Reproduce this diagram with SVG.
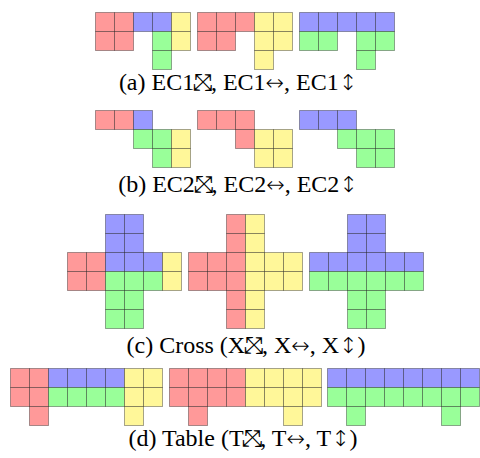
<svg xmlns="http://www.w3.org/2000/svg" width="480" height="458" viewBox="0 0 480 458">
<style>
rect{stroke:#000;stroke-opacity:0.35;stroke-width:1;width:19px;height:19px}
.r{fill:#ff9999}.b{fill:#9999ff}.g{fill:#99ff99}.y{fill:#fff799}
text{font-family:"Liberation Serif","Times New Roman",serif;font-size:24px;fill:#000;text-anchor:middle}
.s{font-family:"DejaVu Sans",sans-serif;font-size:23px;font-weight:200}
.a{font-family:"DejaVu Sans",sans-serif;font-size:22px;font-weight:200}
</style>
<rect x="0" y="0" width="480" height="458" style="fill:#fff;stroke:none;width:480px;height:458px"/>
<g id="ec1-diag">
<rect class="r" x="95.5" y="12.5"/><rect class="r" x="114.5" y="12.5"/><rect class="b" x="133.5" y="12.5"/><rect class="b" x="152.5" y="12.5"/><rect class="y" x="171.5" y="12.5"/>
<rect class="r" x="95.5" y="31.5"/><rect class="r" x="114.5" y="31.5"/><rect class="g" x="152.5" y="31.5"/><rect class="y" x="171.5" y="31.5"/>
<rect class="g" x="152.5" y="50.5"/>
</g>
<g id="ec1-h">
<rect class="r" x="197.5" y="12.5"/><rect class="r" x="216.5" y="12.5"/><rect class="r" x="235.5" y="12.5"/><rect class="y" x="254.5" y="12.5"/><rect class="y" x="273.5" y="12.5"/>
<rect class="r" x="197.5" y="31.5"/><rect class="r" x="216.5" y="31.5"/><rect class="y" x="254.5" y="31.5"/><rect class="y" x="273.5" y="31.5"/>
<rect class="y" x="254.5" y="50.5"/>
</g>
<g id="ec1-v">
<rect class="b" x="299.5" y="12.5"/><rect class="b" x="318.5" y="12.5"/><rect class="b" x="337.5" y="12.5"/><rect class="b" x="356.5" y="12.5"/><rect class="b" x="375.5" y="12.5"/>
<rect class="g" x="299.5" y="31.5"/><rect class="g" x="318.5" y="31.5"/><rect class="g" x="356.5" y="31.5"/><rect class="g" x="375.5" y="31.5"/>
<rect class="g" x="356.5" y="50.5"/>
</g>
<text id="cap-a" x="238" y="90">(a) EC1<tspan class="s">⤡</tspan><tspan class="s" dx="-19.3">⤢</tspan>, EC1<tspan class="a">↔</tspan>, EC1<tspan class="a">↕</tspan></text>

<g id="ec2-diag">
<rect class="r" x="95.5" y="110.5"/><rect class="r" x="114.5" y="110.5"/><rect class="b" x="133.5" y="110.5"/>
<rect class="g" x="133.5" y="129.5"/><rect class="g" x="152.5" y="129.5"/><rect class="y" x="171.5" y="129.5"/>
<rect class="g" x="152.5" y="148.5"/><rect class="y" x="171.5" y="148.5"/>
</g>
<g id="ec2-h">
<rect class="r" x="197.5" y="110.5"/><rect class="r" x="216.5" y="110.5"/><rect class="r" x="235.5" y="110.5"/>
<rect class="r" x="235.5" y="129.5"/><rect class="y" x="254.5" y="129.5"/><rect class="y" x="273.5" y="129.5"/>
<rect class="y" x="254.5" y="148.5"/><rect class="y" x="273.5" y="148.5"/>
</g>
<g id="ec2-v">
<rect class="b" x="299.5" y="110.5"/><rect class="b" x="318.5" y="110.5"/><rect class="b" x="337.5" y="110.5"/>
<rect class="g" x="337.5" y="129.5"/><rect class="g" x="356.5" y="129.5"/><rect class="g" x="375.5" y="129.5"/>
<rect class="g" x="356.5" y="148.5"/><rect class="g" x="375.5" y="148.5"/>
</g>
<text id="cap-b" x="238" y="192">(b) EC2<tspan class="s">⤡</tspan><tspan class="s" dx="-19.3">⤢</tspan>, EC2<tspan class="a">↔</tspan>, EC2<tspan class="a">↕</tspan></text>

<g id="cross-diag">
<rect class="b" x="105.5" y="214.5"/><rect class="b" x="124.5" y="214.5"/>
<rect class="b" x="105.5" y="233.5"/><rect class="b" x="124.5" y="233.5"/>
<rect class="r" x="67.5" y="252.5"/><rect class="r" x="86.5" y="252.5"/><rect class="b" x="105.5" y="252.5"/><rect class="b" x="124.5" y="252.5"/><rect class="b" x="143.5" y="252.5"/><rect class="y" x="162.5" y="252.5"/>
<rect class="r" x="67.5" y="271.5"/><rect class="r" x="86.5" y="271.5"/><rect class="g" x="105.5" y="271.5"/><rect class="g" x="124.5" y="271.5"/><rect class="g" x="143.5" y="271.5"/><rect class="y" x="162.5" y="271.5"/>
<rect class="g" x="105.5" y="290.5"/><rect class="g" x="124.5" y="290.5"/>
<rect class="g" x="105.5" y="309.5"/><rect class="g" x="124.5" y="309.5"/>
</g>
<g id="cross-h">
<rect class="r" x="226.5" y="214.5"/><rect class="y" x="245.5" y="214.5"/>
<rect class="r" x="226.5" y="233.5"/><rect class="y" x="245.5" y="233.5"/>
<rect class="r" x="188.5" y="252.5"/><rect class="r" x="207.5" y="252.5"/><rect class="r" x="226.5" y="252.5"/><rect class="y" x="245.5" y="252.5"/><rect class="y" x="264.5" y="252.5"/><rect class="y" x="283.5" y="252.5"/>
<rect class="r" x="188.5" y="271.5"/><rect class="r" x="207.5" y="271.5"/><rect class="r" x="226.5" y="271.5"/><rect class="y" x="245.5" y="271.5"/><rect class="y" x="264.5" y="271.5"/><rect class="y" x="283.5" y="271.5"/>
<rect class="r" x="226.5" y="290.5"/><rect class="y" x="245.5" y="290.5"/>
<rect class="r" x="226.5" y="309.5"/><rect class="y" x="245.5" y="309.5"/>
</g>
<g id="cross-v">
<rect class="b" x="347.5" y="214.5"/><rect class="b" x="366.5" y="214.5"/>
<rect class="b" x="347.5" y="233.5"/><rect class="b" x="366.5" y="233.5"/>
<rect class="b" x="309.5" y="252.5"/><rect class="b" x="328.5" y="252.5"/><rect class="b" x="347.5" y="252.5"/><rect class="b" x="366.5" y="252.5"/><rect class="b" x="385.5" y="252.5"/><rect class="b" x="404.5" y="252.5"/>
<rect class="g" x="309.5" y="271.5"/><rect class="g" x="328.5" y="271.5"/><rect class="g" x="347.5" y="271.5"/><rect class="g" x="366.5" y="271.5"/><rect class="g" x="385.5" y="271.5"/><rect class="g" x="404.5" y="271.5"/>
<rect class="g" x="347.5" y="290.5"/><rect class="g" x="366.5" y="290.5"/>
<rect class="g" x="347.5" y="309.5"/><rect class="g" x="366.5" y="309.5"/>
</g>
<text id="cap-c" x="246" y="353">(c) Cross (X<tspan class="s">⤡</tspan><tspan class="s" dx="-19.3">⤢</tspan>, X<tspan class="a">↔</tspan>, X<tspan class="a">↕</tspan>)</text>

<g id="table-diag">
<rect class="r" x="10.5" y="368.5"/><rect class="r" x="29.5" y="368.5"/><rect class="b" x="48.5" y="368.5"/><rect class="b" x="67.5" y="368.5"/><rect class="b" x="86.5" y="368.5"/><rect class="b" x="105.5" y="368.5"/><rect class="y" x="124.5" y="368.5"/><rect class="y" x="143.5" y="368.5"/>
<rect class="r" x="10.5" y="387.5"/><rect class="r" x="29.5" y="387.5"/><rect class="g" x="48.5" y="387.5"/><rect class="g" x="67.5" y="387.5"/><rect class="g" x="86.5" y="387.5"/><rect class="g" x="105.5" y="387.5"/><rect class="y" x="124.5" y="387.5"/><rect class="y" x="143.5" y="387.5"/>
<rect class="r" x="29.5" y="406.5"/><rect class="y" x="124.5" y="406.5"/>
</g>
<g id="table-h">
<rect class="r" x="169.5" y="368.5"/><rect class="r" x="188.5" y="368.5"/><rect class="r" x="207.5" y="368.5"/><rect class="r" x="226.5" y="368.5"/><rect class="y" x="245.5" y="368.5"/><rect class="y" x="264.5" y="368.5"/><rect class="y" x="283.5" y="368.5"/><rect class="y" x="302.5" y="368.5"/>
<rect class="r" x="169.5" y="387.5"/><rect class="r" x="188.5" y="387.5"/><rect class="r" x="207.5" y="387.5"/><rect class="r" x="226.5" y="387.5"/><rect class="y" x="245.5" y="387.5"/><rect class="y" x="264.5" y="387.5"/><rect class="y" x="283.5" y="387.5"/><rect class="y" x="302.5" y="387.5"/>
<rect class="r" x="188.5" y="406.5"/><rect class="y" x="283.5" y="406.5"/>
</g>
<g id="table-v">
<rect class="b" x="327.5" y="368.5"/><rect class="b" x="346.5" y="368.5"/><rect class="b" x="365.5" y="368.5"/><rect class="b" x="384.5" y="368.5"/><rect class="b" x="403.5" y="368.5"/><rect class="b" x="422.5" y="368.5"/><rect class="b" x="441.5" y="368.5"/><rect class="b" x="460.5" y="368.5"/>
<rect class="g" x="327.5" y="387.5"/><rect class="g" x="346.5" y="387.5"/><rect class="g" x="365.5" y="387.5"/><rect class="g" x="384.5" y="387.5"/><rect class="g" x="403.5" y="387.5"/><rect class="g" x="422.5" y="387.5"/><rect class="g" x="441.5" y="387.5"/><rect class="g" x="460.5" y="387.5"/>
<rect class="g" x="346.5" y="406.5"/><rect class="g" x="441.5" y="406.5"/>
</g>
<text id="cap-d" x="243" y="446">(d) Table (T<tspan class="s">⤡</tspan><tspan class="s" dx="-19.3">⤢</tspan>, T<tspan class="a">↔</tspan>, T<tspan class="a">↕</tspan>)</text>
</svg>
